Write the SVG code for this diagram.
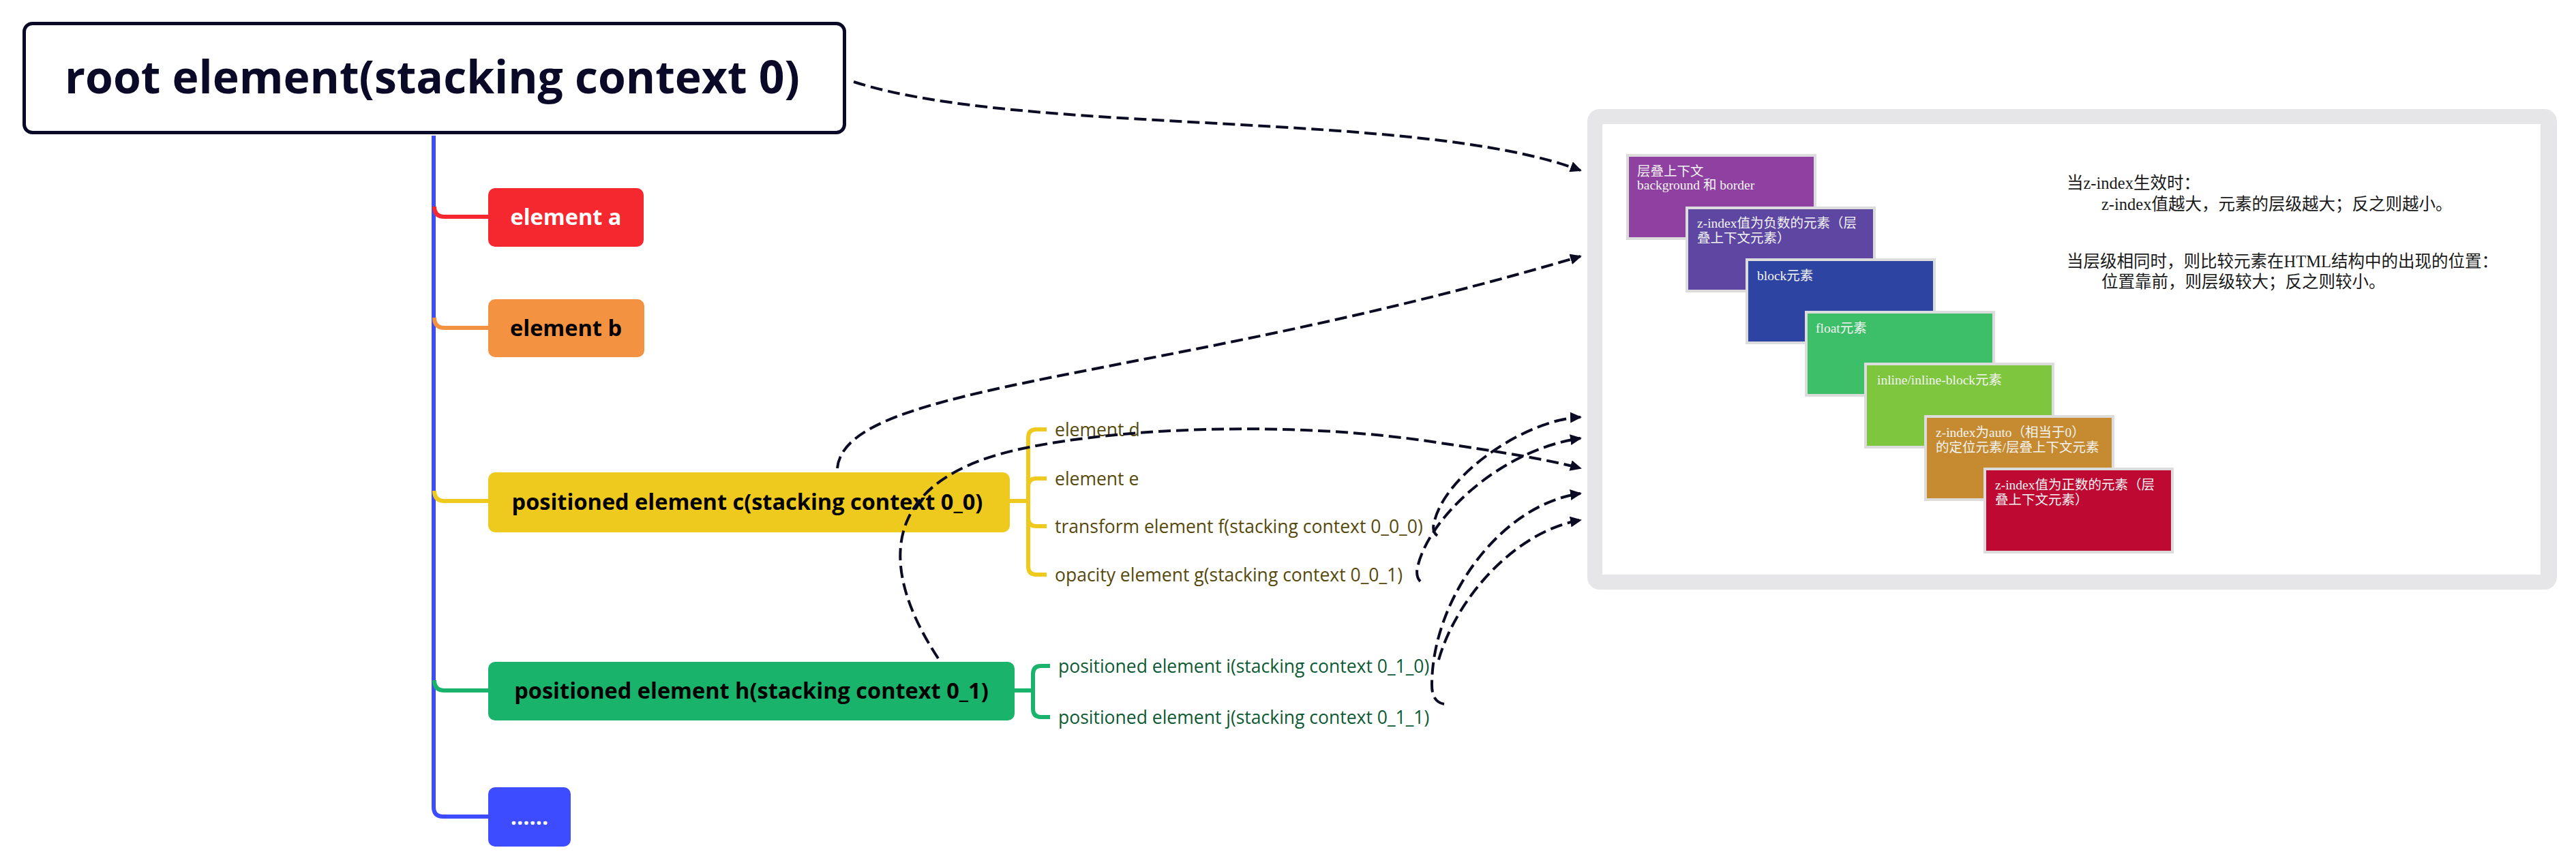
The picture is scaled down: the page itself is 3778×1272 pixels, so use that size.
<svg xmlns="http://www.w3.org/2000/svg" width="3778" height="1272" viewBox="0 0 3778 1272">
<defs>
<style>
.lbl{font-family:"Open Sans","Noto Sans",sans-serif;}
.main{font-weight:700;font-size:32.5px;text-anchor:middle;}
.sub{font-size:26.5px;}
.suby{fill:#57490c;}
.subg{fill:#0d5a34;}
.br{fill:none;stroke-width:6;stroke-linecap:butt;stroke-linejoin:round;}
.dash{fill:none;stroke:#0b0b24;stroke-width:4;stroke-dasharray:18 8;marker-end:url(#arr);}
.card{stroke:#dcdcdc;stroke-width:4;}
.ctxt{font-family:"Liberation Serif","Noto Sans CJK SC",serif;font-size:19.5px;fill:#f4f4f4;}
.note{font-family:"Liberation Serif","Noto Sans CJK SC",serif;font-size:24.5px;fill:#1a1a1a;}
</style>
<marker id="arr" markerUnits="userSpaceOnUse" markerWidth="18" markerHeight="16" refX="15" refY="8" orient="auto">
<path d="M0,0 L17,8 L0,16 Z" fill="#0b0b24"/>
</marker>
</defs>
<rect width="3778" height="1272" fill="#ffffff"/>

<g id="tree-connectors">
<path class="br" stroke="#3d4cff" stroke-width="5" d="M636 199 V1184 Q636 1198 650 1198 H718"/>
<path class="br" stroke="#f5282f" stroke-width="5" d="M637 303 Q637 318 652 318 H718"/>
<path class="br" stroke="#f39241" stroke-width="5" d="M637 466 Q637 481 652 481 H718"/>
<path class="br" stroke="#efca1e" stroke-width="5" d="M637 720 Q637 735 652 735 H718"/>
<path class="br" stroke="#19b36b" stroke-width="5" d="M637 998 Q637 1013 652 1013 H718"/>
<path class="br" stroke="#efca1e" d="M1480 735 H1508 M1508 735 V642 Q1508 630 1520 630 H1535 M1508 735 V714 Q1508 702 1520 702 H1535 M1508 735 V760 Q1508 772 1520 772 H1535 M1508 735 V831 Q1508 843 1520 843 H1535"/>
<path class="br" stroke="#19b36b" d="M1487 1013 H1515 M1515 1013 V989 Q1515 977 1527 977 H1540 M1515 1013 V1040 Q1515 1052 1527 1052 H1540"/>
</g>

<g id="root">
<rect x="35.5" y="34.5" width="1203" height="160" rx="12" fill="#ffffff" stroke="#0a0a28" stroke-width="5"/>
<text class="lbl" x="634" y="137" font-size="66" font-weight="700" text-anchor="middle" fill="#0a0a28">root element(stacking context 0)</text>
</g>

<g id="element-a">
<rect x="716" y="276" width="228" height="86" rx="10" fill="#f5282f"/>
<text class="lbl main" x="830" y="330" fill="#ffffff">element a</text>
</g>

<g id="element-b">
<rect x="716" y="439" width="229" height="85" rx="10" fill="#f39241"/>
<text class="lbl main" x="830" y="493" fill="#000000">element b</text>
</g>

<g id="element-c">
<rect x="716" y="693" width="765" height="88" rx="10" fill="#efca1e"/>
<text class="lbl main" x="1096" y="748" fill="#000000">positioned element c(stacking context 0_0)</text>
</g>

<g id="element-d"><text class="lbl sub suby" x="1547" y="640">element d</text></g>
<g id="element-e"><text class="lbl sub suby" x="1547" y="712">element e</text></g>
<g id="element-f"><text class="lbl sub suby" x="1547" y="782">transform element f(stacking context 0_0_0)</text></g>
<g id="element-g"><text class="lbl sub suby" x="1547" y="853">opacity element g(stacking context 0_0_1)</text></g>

<g id="element-h">
<rect x="716" y="971" width="772" height="86" rx="10" fill="#19b36b"/>
<text class="lbl main" x="1102" y="1025" fill="#000000">positioned element h(stacking context 0_1)</text>
</g>

<g id="element-i"><text class="lbl sub subg" x="1552" y="987">positioned element i(stacking context 0_1_0)</text></g>
<g id="element-j"><text class="lbl sub subg" x="1552" y="1062">positioned element j(stacking context 0_1_1)</text></g>

<g id="element-more">
<rect x="716" y="1155" width="121" height="87" rx="10" fill="#3d4cff"/>
<text class="lbl main" x="776.5" y="1210" fill="#ffffff" font-size="30">......</text>
</g>

<g id="stacking-picture">
<rect x="2328" y="160" width="1422" height="705" rx="18" fill="#e6e5e8"/>
<rect x="2350" y="182" width="1376" height="661" fill="#ffffff"/>
<rect class="card" x="2387" y="228" width="275" height="122" fill="#8e41a0"/>
<text class="ctxt" x="2401" y="258">层叠上下文</text>
<text class="ctxt" x="2401" y="278">background 和 border</text>
<rect class="card" x="2474" y="305" width="275" height="122" fill="#5e46a3"/>
<text class="ctxt" x="2489" y="334">z-index值为负数的元素（层</text>
<text class="ctxt" x="2489" y="356">叠上下文元素）</text>
<rect class="card" x="2562" y="381" width="275" height="122" fill="#2e44a3"/>
<text class="ctxt" x="2577" y="411">block元素</text>
<rect class="card" x="2649" y="458" width="275" height="122" fill="#3cbf68"/>
<text class="ctxt" x="2663" y="488">float元素</text>
<rect class="card" x="2736" y="534" width="275" height="122" fill="#7dc63e"/>
<text class="ctxt" x="2753" y="564">inline/inline-block元素</text>
<rect class="card" x="2824" y="611" width="275" height="122" fill="#c68b30"/>
<text class="ctxt" x="2839" y="641">z-index为auto（相当于0）</text>
<text class="ctxt" x="2839" y="663">的定位元素/层叠上下文元素</text>
<rect class="card" x="2911" y="688" width="275" height="122" fill="#be0933"/>
<text class="ctxt" x="2926" y="718">z-index值为正数的元素（层</text>
<text class="ctxt" x="2926" y="740">叠上下文元素）</text>
<text class="note" x="3031" y="277">当z-index生效时：</text>
<text class="note" x="3082" y="308">z-index值越大，元素的层级越大；反之则越小。</text>
<text class="note" x="3031" y="392">当层级相同时，则比较元素在HTML结构中的出现的位置：</text>
<text class="note" x="3082" y="422">位置靠前，则层级较大；反之则较小。</text>
</g>

<g id="relation-connectors">
<path class="dash" d="M1252 120 C1500 200, 2080 160, 2318 250"/>
<path class="dash" d="M1228 687 C1240 560, 1700 560, 2318 376"/>
<path class="dash" d="M1376 966 C1280 820, 1300 700, 1500 658 C1650 626, 1900 618, 2100 648 C2200 663, 2270 674, 2318 687"/>
<path class="dash" d="M2108 786 Q2100 780 2103 768 C2118 695, 2240 615, 2318 612"/>
<path class="dash" d="M2083 853 Q2076 846 2079 832 C2095 760, 2200 660, 2318 643"/>
<path class="dash" d="M2118 1033 Q2100 1030 2100 1005 C2100 880, 2200 740, 2318 724"/>
<path class="dash" d="M2110 968 C2135 880, 2220 780, 2318 763"/>
</g>
</svg>
